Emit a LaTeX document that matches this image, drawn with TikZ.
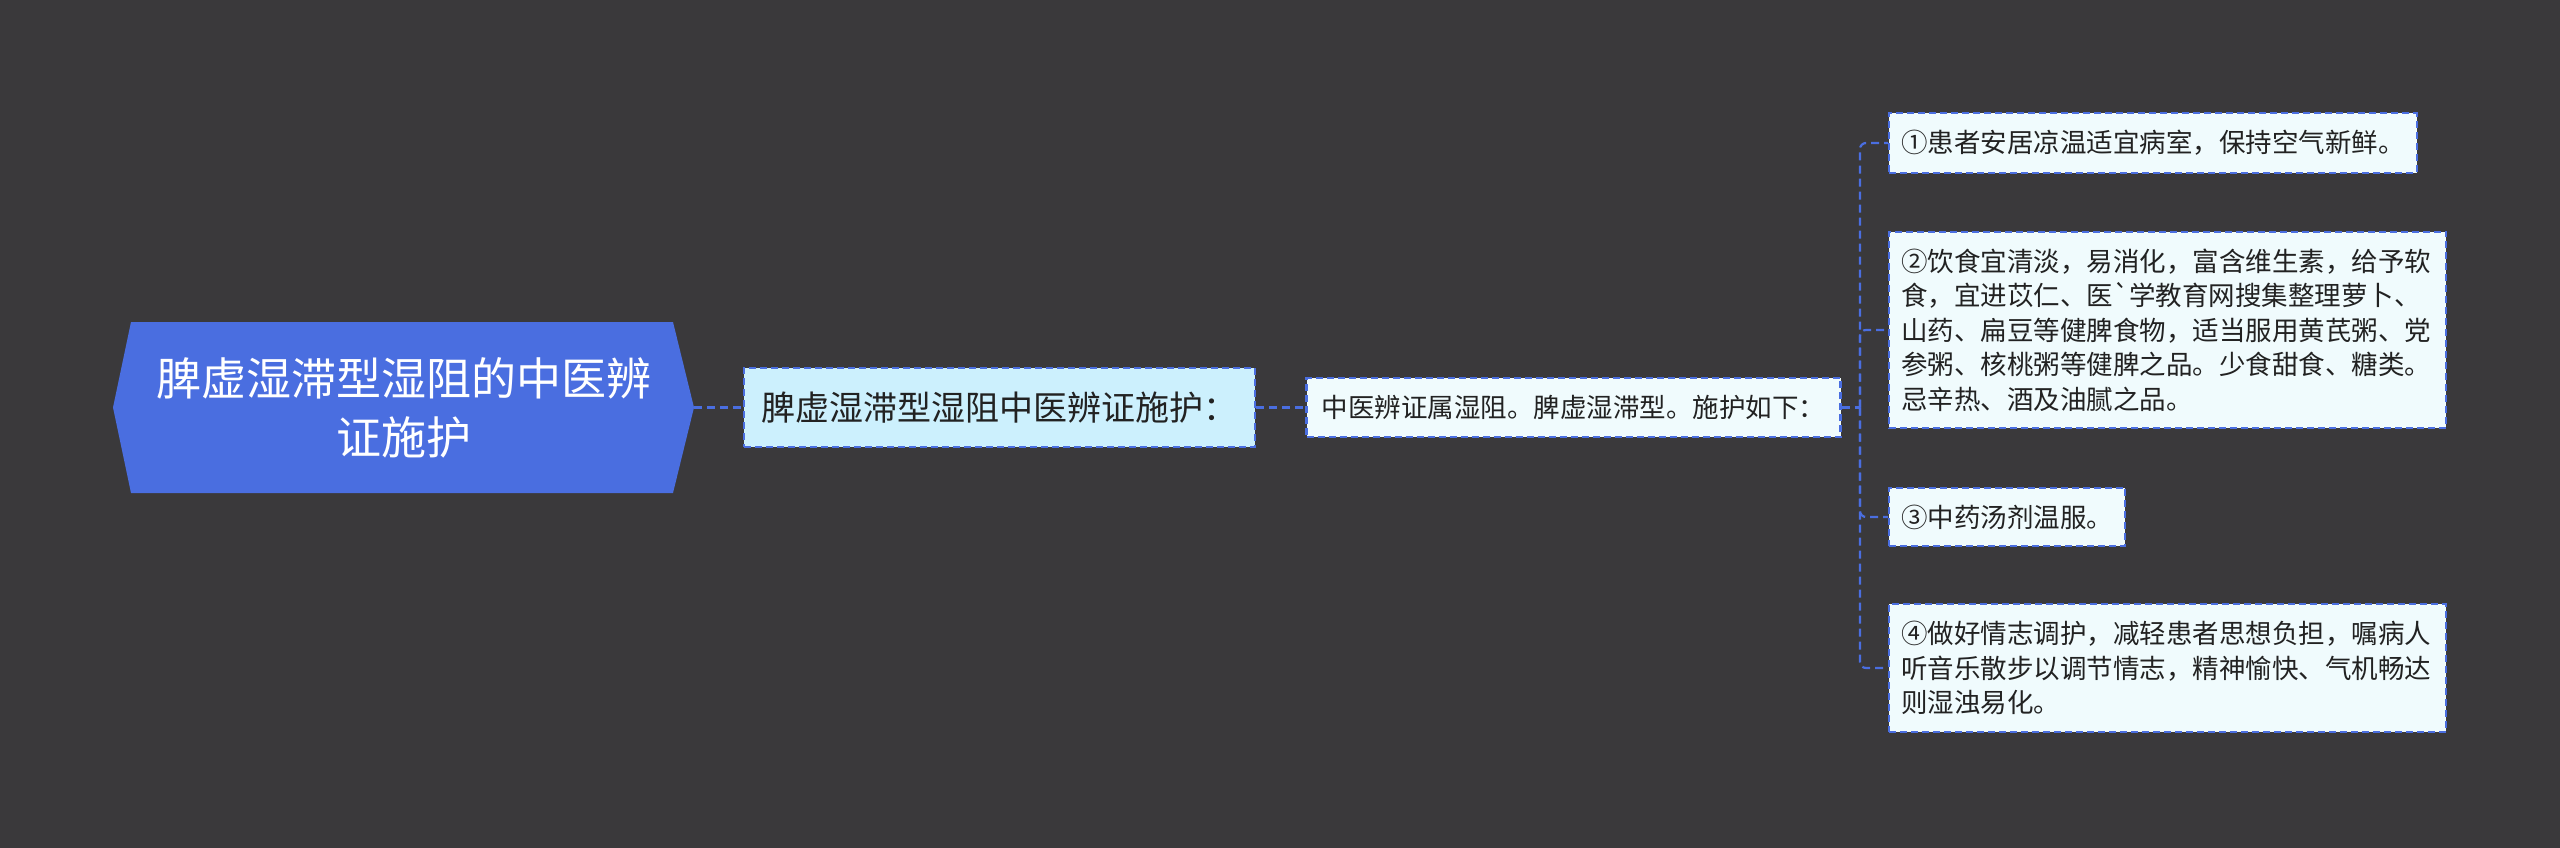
\documentclass[tikz,border=0pt]{standalone}
\usepackage{fontspec}
\setmainfont{Noto Sans CJK SC}
\usetikzlibrary{positioning}

\definecolor{canvas}{HTML}{3A393B}
\definecolor{rootblue}{HTML}{4A6EE0}
\definecolor{subfill}{HTML}{CCF0FD}
\definecolor{leaffill}{HTML}{F0FBFD}
\definecolor{ink}{HTML}{222222}

\tikzset{
    link/.style={draw=rootblue, line width=2.2pt, dash pattern=on 8pt off 5pt},
    box/.style={draw=rootblue, line width=2.2pt, dash pattern=on 7pt off 4pt, text=ink},
    subnode/.style={box, fill=subfill, minimum width=511pt, minimum height=79pt,
        inner sep=0pt, font=\fontsize{34pt}{40pt}\selectfont},
    leafnode/.style={box, fill=leaffill, anchor=west, align=left, inner xsep=12pt,
        inner ysep=17pt, font=\fontsize{26.5pt}{34.5pt}\selectfont},
}

\begin{document}
\begin{tikzpicture}[x=1pt, y=-1pt]

% Hintergrund
\fill[canvas] (0,0) rectangle (2560,848);

% Hauptknoten (Sechseck)
\fill[rootblue] (113,407.5) -- (131,322) -- (673,322) -- (694,407.5)
    -- (673,493) -- (131,493) -- cycle;
\node[text=white, align=center, minimum width=581pt, minimum height=171pt,
    font=\fontsize{45pt}{59pt}\selectfont] (root) at (403.5,407.5)
    {脾虚湿滞型湿阻的中医辨\\证施护};

% Zwischenknoten
\node[subnode, right=49pt of root] (care) {脾虚湿滞型湿阻中医辨证施护：};
\node[leafnode, anchor=center, minimum width=534pt, minimum height=59pt,
    right=49pt of care] (diag) {中医辨证属湿阻。脾虚湿滞型。施护如下：};

% Blaetter
\node[leafnode] (tip1) at (1888,143) {①患者安居凉温适宜病室，保持空气新鲜。};
\node[leafnode, text width=533pt] (tip2) at (1888,330)
    {②饮食宜清淡，易消化，富含维生素，给予软\\
     食，宜进苡仁、医\textasciigrave 学教育网搜集整理萝卜、\\
     山药、扁豆等健脾食物，适当服用黄芪粥、党\\
     参粥、核桃粥等健脾之品。少食甜食、糖类。\\
     忌辛热、酒及油腻之品。};
\node[leafnode] (tip3) at (1888,517) {③中药汤剂温服。};
\node[leafnode, text width=533pt] (tip4) at (1888,668)
    {④做好情志调护，减轻患者思想负担，嘱病人\\
     听音乐散步以调节情志，精神愉快、气机畅达\\
     则湿浊易化。};

% Verbindungen
\coordinate (fork) at (1860,407.5);
\draw[link] (root.east) -- (care.west);
\draw[link] (care.east) -- (diag.west);
\draw[link] (diag.east) -- (fork);
\foreach \t in {tip1,tip2,tip3,tip4}
    \draw[link, rounded corners=6pt] (fork) |- (\t.west);

\end{tikzpicture}
\end{document}
